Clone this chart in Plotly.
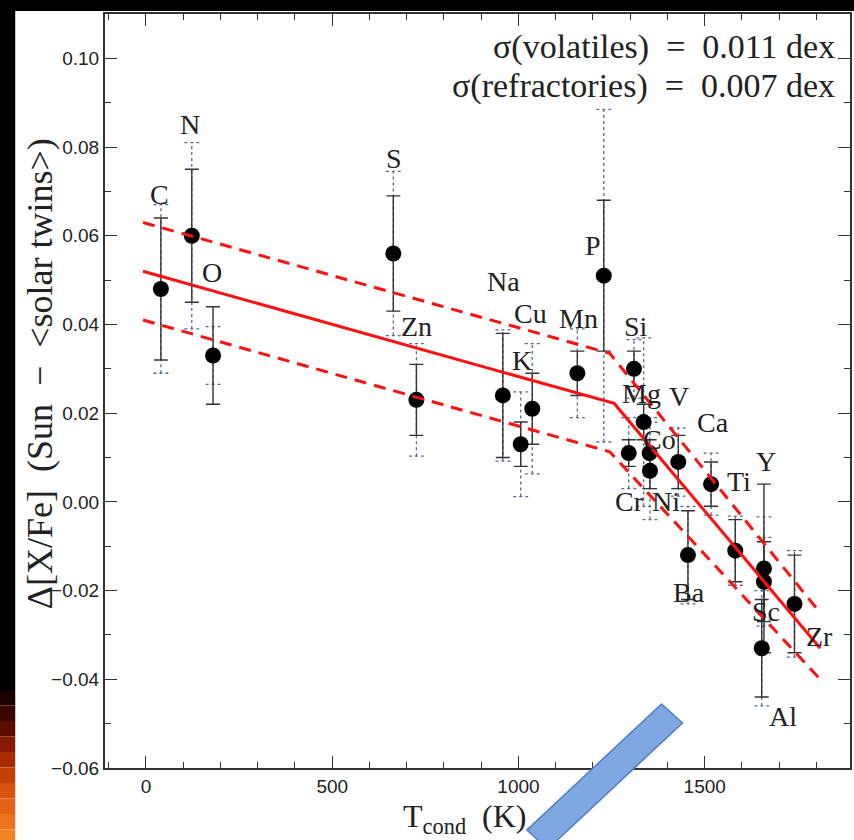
import plotly.graph_objects as go

# ---------------- data ----------------
elements = ["C", "N", "O", "S", "Zn", "Na", "K", "Cu", "Mn", "P", "Si", "Cr",
            "Mg", "Co", "Ni", "V", "Ba", "Ca", "Ti", "Al", "Y", "Sc", "Zr"]
tcond = [40, 123, 180, 664, 726, 958, 1006, 1037, 1158, 1229, 1310, 1296,
         1336, 1352, 1353, 1429, 1455, 1517, 1582, 1653, 1659, 1659, 1741]
delta = [0.048, 0.060, 0.033, 0.056, 0.023, 0.024, 0.013, 0.021, 0.029, 0.051, 0.030, 0.011,
         0.018, 0.011, 0.007, 0.009, -0.012, 0.004, -0.011, -0.033, -0.015, -0.018, -0.023]
err_solid = [0.016, 0.015, 0.011, 0.013, 0.008, 0.014, 0.005, 0.008, 0.005, 0.017, 0.004, 0.003,
             0.004, 0.003, 0.004, 0.006, 0.010, 0.005, 0.007, 0.011, 0.019, 0.009, 0.011]
err_dotted = [0.019, 0.021, 0.0065, 0.0185, 0.0127, 0.0148, 0.0118, 0.0147, 0.010, 0.0375, 0.0066, 0.008,
              0.019, 0.008, 0.011, 0.0077, 0.011, 0.007, 0.0078, 0.013, 0.0116, 0.010, 0.012]

# label anchor positions (data units)
label_T = [37, 118, 176, 666, 725, 960, 1009, 1031, 1162, 1200, 1316, 1299,
           1330, 1379, 1397, 1430, 1459, 1521, 1592, 1711, 1664, 1664, 1809]
label_v = [0.0692, 0.085, 0.0517, 0.0775, 0.0395, 0.0496, 0.0318, 0.0425, 0.0414, 0.0579, 0.0395, 0.0001,
           0.0245, 0.014, 0.0001, 0.0237, -0.0204, 0.0178, 0.0046, -0.0484, 0.0091, -0.0247, -0.0304]

# fitted trends
fit_T = [-8, 1257, 1810]
fit_mid = [0.052, 0.0222, -0.033]
band_T = [-8, 1245, 1810]
band_up = [0.063, 0.0335, -0.025]
band_lo = [0.041, 0.0113, -0.040]

NB = "\u00a0"
sigma_text = [f"σ(volatiles){NB}{NB}={NB}{NB}0.011{NB}dex",
              f"σ(refractories){NB}{NB}={NB}{NB}0.007{NB}dex"]

x_ticks = [0, 500, 1000, 1500]
y_ticks = [-0.06, -0.04, -0.02, 0.00, 0.02, 0.04, 0.06, 0.08, 0.10]

# ---------------- figure geometry ----------------
W, H = 854, 840
ML, MR, MT, MB = 105, 2, 14, 72
PW, PH = W - ML - MR, H - MT - MB


def px(x):
    return (x - ML) / PW


def py(y):
    return (H - MB - y) / PH


fig = go.Figure()

# dotted (blue-grey) error bars
cap = 20
dx, dy = [], []
for t, v, e in zip(tcond, delta, err_dotted):
    dx += [t, t, None, t - cap, t + cap, None, t - cap, t + cap, None]
    dy += [v - e, v + e, None, v + e, v + e, None, v - e, v - e, None]
fig.add_trace(go.Scatter(x=dx, y=dy, mode="lines", hoverinfo="skip",
                         line=dict(color="#5d6890", width=1.3, dash="dot"),
                         showlegend=False))

# points with solid error bars
fig.add_trace(go.Scatter(
    x=tcond, y=delta, mode="markers", text=elements, showlegend=False,
    marker=dict(size=16, color="black"),
    error_y=dict(type="data", array=err_solid, color="#333333", thickness=1.4, width=7)))

# trend lines
fig.add_trace(go.Scatter(x=fit_T, y=fit_mid, mode="lines", showlegend=False,
                         line=dict(color="#ff1010", width=3)))
for yy in (band_up, band_lo):
    fig.add_trace(go.Scatter(x=band_T, y=yy, mode="lines", showlegend=False,
                             line=dict(color="#ff1010", width=3, dash="12px,8px")))

annotations = []
for name, t, v in zip(elements, label_T, label_v):
    annotations.append(dict(x=t, y=v, xref="x", yref="y", text=name, showarrow=False,
                            font=dict(family="Liberation Serif", size=28, color="#222")))

annotations.append(dict(x=px(839), y=py(47), xref="paper", yref="paper", text=sigma_text[0],
                        showarrow=False, xanchor="right", yanchor="middle",
                        font=dict(family="Liberation Serif", size=34, color="#222")))
annotations.append(dict(x=px(839), y=py(86), xref="paper", yref="paper", text=sigma_text[1],
                        showarrow=False, xanchor="right", yanchor="middle",
                        font=dict(family="Liberation Serif", size=34, color="#222")))

# axis titles
ytitle = f"Δ[X/Fe]{NB}{NB}(Sun{NB}{NB}−{NB}{NB}&lt;solar{NB}twins&gt;)"
annotations.append(dict(x=px(40), y=py(374), xref="paper", yref="paper",
                        text=ytitle, textangle=-90,
                        showarrow=False, xanchor="center", yanchor="middle",
                        font=dict(family="Liberation Serif", size=36, color="#222")))
annotations.append(dict(x=px(466), y=py(818), xref="paper", yref="paper",
                        text=f"T<sub>cond</sub>{NB}{NB}(K)", showarrow=False,
                        xanchor="center", yanchor="middle",
                        font=dict(family="Liberation Serif", size=32, color="#222")))

shapes = []
# black slide border on top
shapes.append(dict(type="rect", xref="paper", yref="paper", x0=px(-5), x1=px(W + 5),
                   y0=py(11), y1=py(-5), fillcolor="black", line=dict(width=0), layer="above"))
# left strip: black turning into fire at the bottom
SW = 15
shapes.append(dict(type="rect", xref="paper", yref="paper", x0=px(-5), x1=px(SW),
                   y0=py(690), y1=py(-5), fillcolor="black", line=dict(width=0), layer="above"))
fire = ["#1a0000", "#3a0400", "#5e0c00", "#861a00", "#a82c02", "#c44008",
        "#d85210", "#e46218", "#ec7420", "#f28428"]
step = (H + 5 - 690) / len(fire)
for i, c in enumerate(fire):
    shapes.append(dict(type="rect", xref="paper", yref="paper", x0=px(-5), x1=px(SW),
                       y0=py(690 + (i + 1) * step), y1=py(690 + i * step),
                       fillcolor=c, line=dict(width=0), layer="above"))

# blue arrow bar
P = [(663, 704), (684, 723), (549, 849), (528, 830)]
path = "M " + " L ".join(f"{px(a):.5f},{py(b):.5f}" for a, b in P) + " Z"
shapes.append(dict(type="path", xref="paper", yref="paper", path=path,
                   fillcolor="#7fa8e2", line=dict(color="#4f7fc0", width=1.5), layer="above"))

fig.update_layout(
    width=W, height=H,
    margin=dict(l=ML, r=MR, t=MT, b=MB),
    paper_bgcolor="white", plot_bgcolor="white",
    annotations=annotations, shapes=shapes,
    xaxis=dict(range=[-110, 1890], tickvals=x_ticks, ticks="inside", ticklen=12, tickwidth=1.3,
               tickcolor="#333", showline=True, linecolor="#333", linewidth=2, mirror="ticks",
               showgrid=False, zeroline=False,
               minor=dict(ticks="inside", ticklen=6, dtick=100, tick0=0, tickcolor="#333",
                          showgrid=False),
               tickfont=dict(family="Liberation Sans", size=19, color="#222")),
    yaxis=dict(range=[-0.06, 0.11], tickvals=y_ticks, tickformat=".2f", ticks="inside",
               ticklen=12, tickwidth=1.3, tickcolor="#333", showline=True, linecolor="#333",
               linewidth=2, mirror="ticks", showgrid=False, zeroline=False,
               minor=dict(ticks="inside", ticklen=6, dtick=0.01, tick0=0, tickcolor="#333",
                          showgrid=False),
               tickfont=dict(family="Liberation Sans", size=19, color="#222")),
)

fig.write_html("out.html")
